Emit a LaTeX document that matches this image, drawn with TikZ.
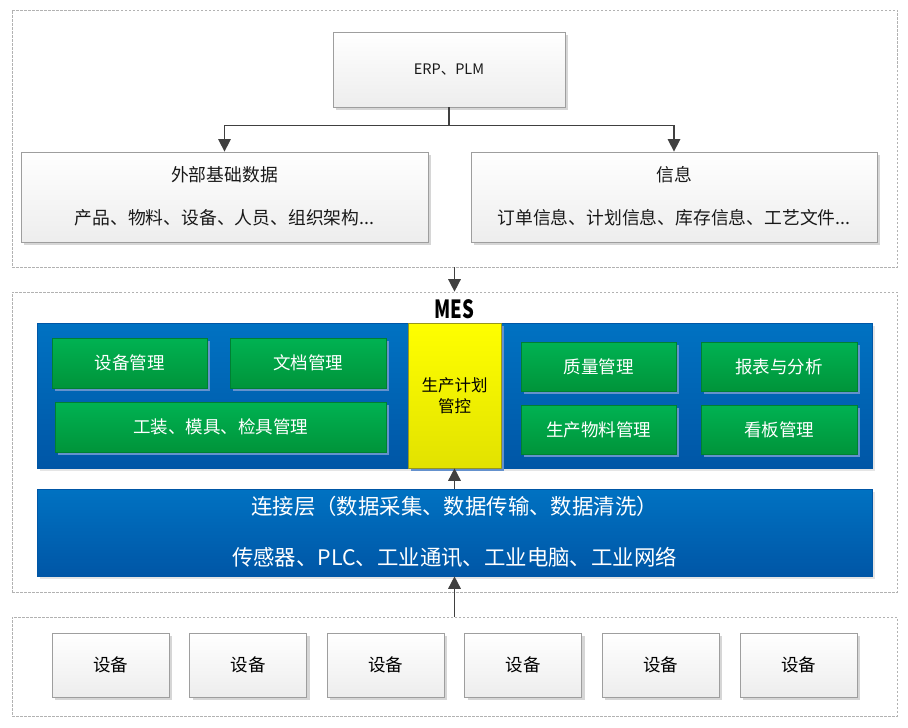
\documentclass[tikz,border=0pt]{standalone}
\usepackage{graphicx}
\usepackage{fontspec}
\setmainfont{Noto Sans CJK SC}
\usetikzlibrary{shadows,arrows.meta,calc}
\definecolor{blueTop}{RGB}{0,114,194}
\definecolor{blueBot}{RGB}{0,86,166}
\definecolor{greenTop}{RGB}{0,178,82}
\definecolor{greenBot}{RGB}{0,148,58}
\definecolor{greenLine}{RGB}{0,128,50}
\definecolor{yelTop}{RGB}{255,255,0}
\definecolor{yelBot}{RGB}{226,226,0}
\definecolor{yelLine}{RGB}{150,150,30}
\definecolor{shBlue}{RGB}{100,145,205}
\definecolor{txtDark}{RGB}{25,25,25}
\definecolor{arrowGray}{RGB}{64,64,64}
\tikzset{
  container/.style={draw=black!30, dash pattern=on 2.5pt off 1.5pt, line width=0.7pt, inner sep=0pt},
  whitebox/.style={draw=black!38, line width=0.8pt, top color=white, bottom color=black!7,
    drop shadow={shadow xshift=3pt, shadow yshift=-3pt, fill=black!16, opacity=1}, inner sep=0pt},
  bluebox/.style={draw=blueBot, line width=0.6pt, top color=blueTop, bottom color=blueBot,
    drop shadow={shadow xshift=3pt, shadow yshift=-3pt, fill=black!10, opacity=1}, inner sep=0pt},
  greenbox/.style={draw=greenLine, line width=0.6pt, top color=greenTop, bottom color=greenBot,
    drop shadow={shadow xshift=2.5pt, shadow yshift=-2.5pt, fill=shBlue, opacity=1},
    text=white, font=\fontsize{17.5}{20}\selectfont, inner sep=0pt},
  yellowbox/.style={draw=yelLine, line width=0.6pt, top color=yelTop, bottom color=yelBot,
    drop shadow={shadow xshift=2.5pt, shadow yshift=-2.5pt, fill=shBlue, opacity=1},
    text=black, font=\fontsize{16.5}{21.5}\selectfont, align=center, inner sep=0pt},
  devbox/.style={whitebox, minimum width=117pt, minimum height=64pt, text=black,
    font=\fontsize{17.5}{20}\selectfont},
  infotxt/.style={text=txtDark, font=\fontsize{17.8}{20}\selectfont, inner sep=0pt},
  conntxt/.style={text=white, font=\fontsize{21.4}{24}\selectfont, inner sep=0pt},
  flow/.style={draw=arrowGray, line width=1.5pt, -{Triangle[length=12.5pt,width=12.5pt]}}
}
\begin{document}
\begin{tikzpicture}[x=1pt,y=-1pt]
\useasboundingbox (0,0) rectangle (908,728);
% containers
\node[container, minimum width=885pt, minimum height=257pt] (topc) at (454.5,138.5) {};
\node[container, minimum width=885pt, minimum height=300pt] (mesc) at (454.5,442) {};
\node[container, minimum width=885pt, minimum height=99pt] (devc) at (454.5,666.5) {};

% top part
\node[whitebox, minimum width=232pt, minimum height=75pt, text=txtDark, font=\fontsize{14.5}{17}\selectfont] (erp) at (449,69.5) {ERP、PLM};
\node[whitebox, minimum width=407pt, minimum height=90pt] (info1) at (224.5,197) {};
\node[whitebox, minimum width=406pt, minimum height=90pt] (info2) at (674,197) {};
\node[infotxt] (i1t) at ($(info1.north)+(0,23)$) {外部基础数据};
\node[infotxt] (i1s) at ($(info1.north)+(0,66)$) {产品、物料、设备、人员、组织架构...};
\node[infotxt] (i2t) at ($(info2.north)+(0,23)$) {信息};
\node[infotxt] (i2s) at ($(info2.north)+(0,66)$) {订单信息、计划信息、库存信息、工艺文件...};
\draw[flow] (erp.south) -- ++(0,18) -| (info1.north);
\draw[flow] (erp.south) -- ++(0,18) -| (info2.north);

% MES part
\node[anchor=base, text=black, font=\fontsize{25}{28}\selectfont\bfseries, inner sep=0pt] (meslbl) at (454.5,318) {\scalebox{0.74}[1]{MES}};
\node[bluebox, minimum width=835pt, minimum height=145pt] (mesb) at (454.5,395.5) {};
\node[yellowbox, minimum width=93pt, minimum height=145pt] (plan) at (454.5,395.5) {生产计划\\管控};
\node[greenbox, minimum width=155pt, minimum height=50pt] (g1) at (129.5,363) {设备管理};
\node[greenbox, minimum width=156pt, minimum height=50pt] (g2) at (308,363) {文档管理};
\node[greenbox, minimum width=331pt, minimum height=50pt] (g3) at (220.5,427) {工装、模具、检具管理};
\node[greenbox, minimum width=155pt, minimum height=49pt] (g4) at (598.5,366.5) {质量管理};
\node[greenbox, minimum width=156pt, minimum height=49pt] (g5) at (779,366.5) {报表与分析};
\node[greenbox, minimum width=155pt, minimum height=49pt] (g6) at (598.5,429.5) {生产物料管理};
\node[greenbox, minimum width=156pt, minimum height=49pt] (g7) at (779,429.5) {看板管理};

\node[bluebox, minimum width=835pt, minimum height=87pt] (conn) at (454.5,532.5) {};
\node[conntxt] (c1) at (454.5,506) {连接层（数据采集、数据传输、数据清洗）};
\node[conntxt] (c2) at (454.5,557) {传感器、PLC、工业通讯、工业电脑、工业网络};

% devices
\node[devbox] (d1) at (110.5,665) {设备};
\node[devbox] (d2) at (248.1,665) {设备};
\node[devbox] (d3) at (385.7,665) {设备};
\node[devbox] (d4) at (523.3,665) {设备};
\node[devbox] (d5) at (660.9,665) {设备};
\node[devbox] (d6) at (798.5,665) {设备};

% vertical arrows
\draw[flow] (topc.south) -- (mesc.north);
\draw[flow] (conn.north) -- (plan.south);
\draw[flow] (devc.north) -- (conn.south);
\end{tikzpicture}
\end{document}
